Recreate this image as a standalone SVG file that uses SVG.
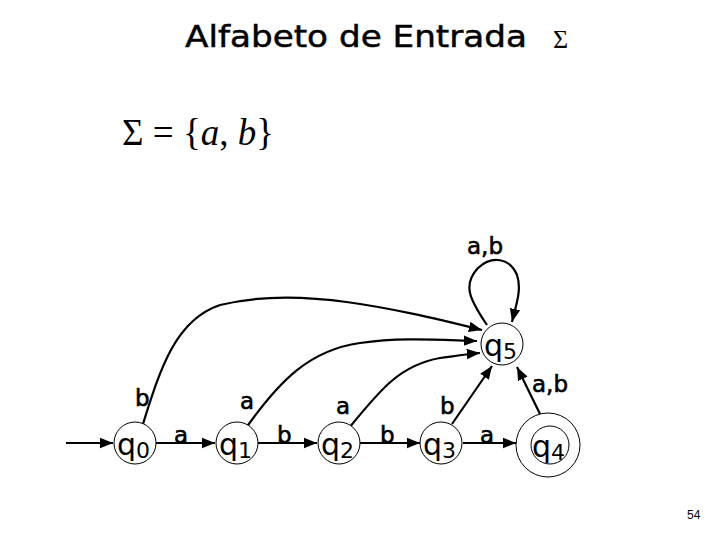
<svg xmlns="http://www.w3.org/2000/svg" width="720" height="540" viewBox="0 0 720 540">
<style>
.st{fill:#fff;stroke:#000;stroke-width:1}
.ql{font-family:"DejaVu Sans",sans-serif;font-size:30px;fill:#000}
.sub{font-size:22px}
.el{font-family:"DejaVu Sans",sans-serif;font-size:23px;fill:#000;stroke:#000;stroke-width:0.6}
.e{fill:none;stroke:#000;stroke-width:2.2;marker-end:url(#ah)}
</style>
<defs>
<marker id="ah" viewBox="0 0 10 10" refX="10" refY="5" markerWidth="6" markerHeight="6" markerUnits="strokeWidth" orient="auto">
<path d="M0,1 L10,5 L0,9 z" fill="#000"/>
</marker>
</defs>
<rect width="720" height="540" fill="#fff"/>
<text x="185" y="47" font-family="'DejaVu Sans',sans-serif" font-size="31" stroke="#000" stroke-width="0.5" textLength="342" lengthAdjust="spacingAndGlyphs">Alfabeto de Entrada</text>
<text x="553" y="48" font-family="'Liberation Serif',serif" font-size="26">Σ</text>
<text x="122" y="145" font-family="'Liberation Serif',serif" font-size="37">Σ = {<tspan font-style="italic">a</tspan>, <tspan font-style="italic">b</tspan>}</text>
<text x="687" y="519" font-family="'Liberation Sans',sans-serif" font-size="12">54</text>
<g id="connectors">
<path class="e" d="M66,443 L113,443"/>
<path class="e" d="M156,443 L215,443"/>
<path class="e" d="M258,443 L317,443"/>
<path class="e" d="M360,443 L420,443"/>
<path class="e" d="M463,443 L516,443"/>
<path class="e" d="M143,424 C160,370 175,320 220,305 C300,285 400,310 482,330"/>
<path class="e" d="M246,428 C280,380 310,350 360,343 C400,337 440,340 477,341"/>
<path class="e" d="M349,428 C380,390 400,365 440,358 C455,356 468,354 480,353"/>
<path class="e" d="M452,424 L492,366"/>
<path class="e" d="M540,414 L517,367"/>
<path class="e" d="M487,325 C470,300 462,285 478,268 C492,255 510,258 517,275 C522,290 516,305 512,322"/>
<text class="el" x="135" y="406">b</text>
<text class="el" x="240" y="409">a</text>
<text class="el" x="336" y="414">a</text>
<text class="el" x="440" y="414">b</text>
<text class="el" x="174" y="443">a</text>
<text class="el" x="277" y="443">b</text>
<text class="el" x="380" y="443">b</text>
<text class="el" x="480" y="443">a</text>
<text class="el" x="467" y="254" font-size="28">a,b</text>
<text class="el" x="532" y="392" font-size="28">a,b</text>
</g>
<g id="q0"><circle class="st" cx="135" cy="443" r="21"/><text class="ql" x="117" y="455">q<tspan class="sub" dy="3">0</tspan></text></g>
<g id="q1"><circle class="st" cx="237" cy="443" r="21"/><text class="ql" x="219" y="455">q<tspan class="sub" dy="3">1</tspan></text></g>
<g id="q2"><circle class="st" cx="339" cy="443" r="21"/><text class="ql" x="321" y="455">q<tspan class="sub" dy="3">2</tspan></text></g>
<g id="q3"><circle class="st" cx="441" cy="443" r="21"/><text class="ql" x="423" y="455">q<tspan class="sub" dy="3">3</tspan></text></g>
<g id="q4"><circle class="st" cx="548" cy="445" r="32"/><circle class="st" cx="550" cy="445" r="19"/><text class="ql" x="532" y="457">q<tspan class="sub" dy="3">4</tspan></text></g>
<g id="q5"><circle class="st" cx="502" cy="344" r="21"/><text class="ql" x="484" y="356">q<tspan class="sub" dy="3">5</tspan></text></g>
</svg>
